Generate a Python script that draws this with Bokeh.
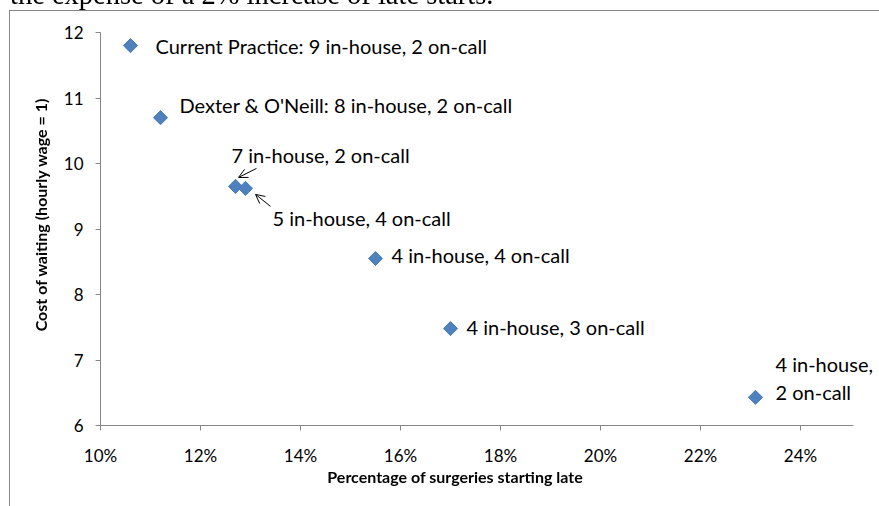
import math
from bokeh.plotting import figure
from bokeh.layouts import column
from bokeh.models import (FixedTicker, NumeralTickFormatter, Label, Arrow, OpenHead,
                          Range1d, Div)
from bokeh.embed import file_html
from bokeh.resources import INLINE

# ---------------- data ----------------
late_pct = [0.106, 0.112, 0.127, 0.129, 0.155, 0.170, 0.231]
wait_cost = [11.80, 10.70, 9.65, 9.62, 8.55, 7.48, 6.43]
point_labels = [
    "Current Practice: 9 in-house, 2 on-call",
    "Dexter & O'Neill: 8 in-house, 2 on-call",
    "7 in-house, 2 on-call",
    "5 in-house, 4 on-call",
    "4 in-house, 4 on-call",
    "4 in-house, 3 on-call",
    "4 in-house,\n2 on-call",
]
x_ticks = [0.10, 0.12, 0.14, 0.16, 0.18, 0.20, 0.22, 0.24]
y_ticks = [6, 7, 8, 9, 10, 11, 12]
x_title = "Percentage of surgeries starting late"
y_title = "Cost of waiting (hourly wage = 1)"
page_text = "the expense of a 2% increase of late starts."

# ---------------- layout / styles (page pixel coordinates; canvas at page 0,0) ----------------
W, H = 879, 505
F_LEFT, F_TOP, F_AXIS_END, F_BOTTOM = 100, 32, 853, 425
X0, X_AXIS_MAX, Y0, Y1 = 0.10, 0.2506, 6, 12
FONT = "Lato"
AXIS_GRAY = "#868686"
TICK_SIZE = "17px"
LABEL_SIZE = "20px"
TITLE_SIZE = "16px"

# label offsets in px (dx right, dy up) relative to each point
label_offsets = [(25, 0), (19, 13), (-4, 31), (27, -30), (16, 3), (16, 2), (20, 33)]
LINE_STEP = 28
# callout arrows: (point index, head dx, head dy, tail dx, tail dy) in px, dy up
arrows = [(2, 3, 9, 21, 18), (3, 10, -6, 25, -18)]
X_TITLE_POS = (455, 477)
Y_TITLE_POS = (41, 215)

ppx = (F_AXIS_END - F_LEFT) / (X_AXIS_MAX - X0)
ppy = (F_BOTTOM - F_TOP) / (Y1 - Y0)
X_RANGE_END = X0 + (W - F_LEFT) / ppx   # frame runs to the canvas edge so labels are not clipped

p = figure(width=W, height=H, x_range=Range1d(X0, X_RANGE_END), y_range=Range1d(Y0, Y1),
           output_backend="svg", toolbar_location=None,
           min_border_left=F_LEFT, min_border_right=0,
           min_border_top=F_TOP, min_border_bottom=H - F_BOTTOM)
p.outline_line_color = None
p.xgrid.visible = False
p.ygrid.visible = False
p.background_fill_color = "white"
p.border_fill_color = "white"

# axes
for ax in (p.xaxis[0], p.yaxis[0]):
    ax.axis_line_color = AXIS_GRAY
    ax.major_tick_line_color = AXIS_GRAY
    ax.minor_tick_line_color = None
    ax.major_tick_in = 0
    ax.major_tick_out = 5
    ax.major_label_text_font = FONT
    ax.major_label_text_font_size = TICK_SIZE
    ax.major_label_text_color = "#000000"

p.xaxis.ticker = FixedTicker(ticks=x_ticks)
p.xaxis.formatter = NumeralTickFormatter(format="0%")
p.xaxis.bounds = (X0, X_AXIS_MAX)
p.xaxis.major_label_standoff = 14
p.yaxis.ticker = FixedTicker(ticks=y_ticks)
p.yaxis.major_label_standoff = 12

# points
p.scatter(late_pct, wait_cost, marker="square", size=10, angle=math.pi / 4,
          fill_color="#4F81BD", line_color="#4A7EBB", line_width=1)

# point labels
for i, (txt, (dx, dy)) in enumerate(zip(point_labels, label_offsets)):
    for k, line in enumerate(txt.split("\n")):
        p.add_layout(Label(x=late_pct[i], y=wait_cost[i], x_offset=dx,
                           y_offset=dy - k * LINE_STEP, text=line,
                           text_font=FONT, text_font_size=LABEL_SIZE,
                           text_color="#000000", text_align="left",
                           text_baseline="middle"))

# callout arrows
for idx, hdx, hdy, tdx, tdy in arrows:
    xs, ys = late_pct[idx], wait_cost[idx]
    p.add_layout(Arrow(x_start=xs + tdx / ppx, y_start=ys + tdy / ppy,
                       x_end=xs + hdx / ppx, y_end=ys + hdy / ppy,
                       line_color="black", line_width=1,
                       end=OpenHead(size=9, line_color="black", line_width=1)))

# chart-area border, axis titles and the clipped line of document text above the chart
title_css = ("position:fixed;white-space:nowrap;font-family:%s;font-weight:bold;"
             "font-size:%s;color:#000;z-index:6;line-height:1;" % (FONT, TITLE_SIZE))
overlay = Div(width=1, height=1, text=(
    '<div style="position:fixed;left:9px;top:10px;width:2000px;height:2000px;'
    'border-left:1px solid #868686;border-top:1px solid #868686;z-index:5;'
    'pointer-events:none"></div>'
    '<div style="position:fixed;left:10px;top:-19px;font-family:\'Liberation Serif\';'
    'font-size:28.5px;line-height:28.5px;white-space:nowrap;color:#000;z-index:5">'
    + page_text + '</div>'
    '<div style="%sleft:%dpx;top:%dpx;transform:translate(-50%%,-50%%)">%s</div>'
    % (title_css, X_TITLE_POS[0], X_TITLE_POS[1], x_title)
    + '<div style="%sleft:%dpx;top:%dpx;transform:translate(-50%%,-50%%) rotate(-90deg)">%s</div>'
    % (title_css, Y_TITLE_POS[0], Y_TITLE_POS[1], y_title)))

layout = column(p, overlay, spacing=0)
open("out.html", "w").write(file_html(layout, INLINE))
